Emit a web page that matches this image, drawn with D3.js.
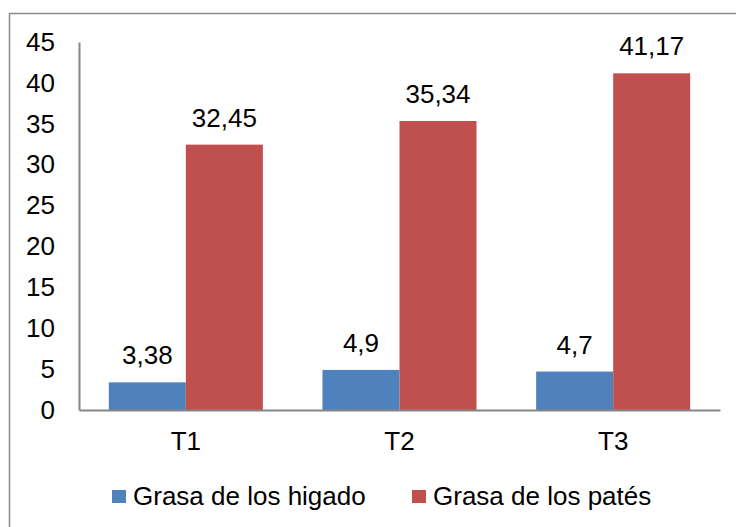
<!DOCTYPE html>
<html><head><meta charset="utf-8">
<script src="https://cdn.jsdelivr.net/npm/d3@7"></script>
<style>body{margin:0;background:#fff}svg{display:block}text{font-family:"Liberation Sans",Arial,sans-serif;fill:#000}</style>
</head><body><svg id="c" width="736" height="527"></svg>
<script>
const categories = ["T1","T2","T3"];
const seriesNames = ["Grasa de los higado","Grasa de los patés"];
const higado = [3.38, 4.9, 4.7];
const pates = [32.45, 35.34, 41.17];
const higadoLabels = ["3,38","4,9","4,7"];
const patesLabels = ["32,45","35,34","41,17"];
const yTicks = [0,5,10,15,20,25,30,35,40,45];
const colors = ["#4F81BD","#C0504D"];

(function(){
const svg = d3.select("#c");
const fs = 26;
svg.append("rect").attr("x",9.5).attr("y",13.5).attr("width",900).attr("height",700)
  .attr("fill","none").attr("stroke","#8c8c8c").attr("stroke-width",1.5);

const pL = 79, pR = 720, pT = 42, pB = 410;
const x0 = d3.scaleBand().domain(categories).range([pL,pR]).padding(0);
const x1 = d3.scaleBand().domain(seriesNames).range([0,x0.bandwidth()]).paddingInner(0).paddingOuter(0.387);
const y = d3.scaleLinear().domain([0,45]).range([pB,pT]);

const vals = [higado, pates];
const labs = [higadoLabels, patesLabels];
seriesNames.forEach((s,si)=>{
  const g = svg.append("g");
  categories.forEach((c,ci)=>{
    const v = vals[si][ci];
    g.append("rect").attr("x",x0(c)+x1(s)).attr("y",y(v)).attr("width",x1.bandwidth()).attr("height",y(0)-y(v)).attr("fill",colors[si]);
    g.append("text").attr("x",x0(c)+x1(s)+x1.bandwidth()/2).attr("y",y(v)-18).attr("text-anchor","middle").attr("font-size",fs).text(labs[si][ci]);
  });
});

const yAxis = d3.axisLeft(y).tickValues(yTicks).tickSize(0).tickPadding(24).tickFormat(d=>String(d));
const ga = svg.append("g").attr("transform",`translate(${pL},0)`).call(yAxis);
ga.select(".domain").attr("stroke","#868686").attr("stroke-width",2);
ga.selectAll("text").attr("font-size",fs).attr("font-family","Liberation Sans, Arial, sans-serif").attr("fill","#000");

const xAxis = d3.axisBottom(x0).tickSize(0).tickPadding(21.5);
const gx = svg.append("g").attr("transform",`translate(0,${pB})`).call(xAxis);
gx.select(".domain").attr("stroke","#868686").attr("stroke-width",2);
gx.selectAll("text").attr("font-size",fs).attr("font-family","Liberation Sans, Arial, sans-serif").attr("fill","#000");

const legX = [112, 412];
seriesNames.forEach((s,i)=>{
  svg.append("rect").attr("x",legX[i]).attr("y",490).attr("width",14).attr("height",13).attr("fill",colors[i]);
  svg.append("text").attr("x",legX[i]+21).attr("y",505).attr("font-size",fs).text(s);
});
})();
</script></body></html>
